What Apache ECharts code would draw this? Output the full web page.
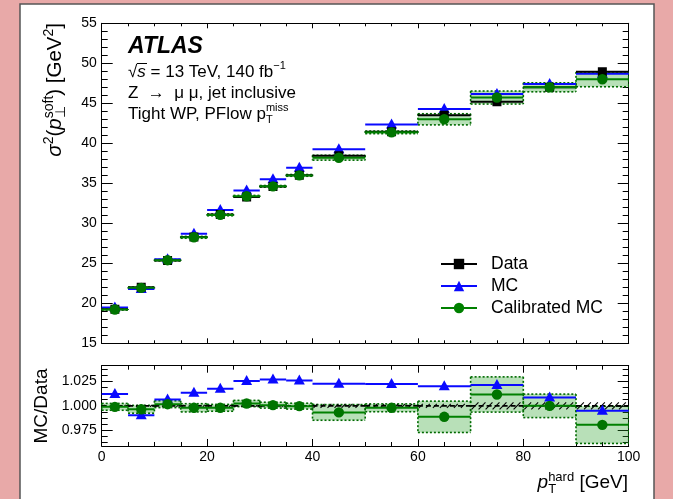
<!DOCTYPE html>
<html>
<head>
<meta charset="utf-8">
<script src="https://cdn.jsdelivr.net/npm/echarts@6/dist/echarts.min.js"></script>
<style>html,body{margin:0;padding:0;background:#e8a9a8;}#c{width:673px;height:499px;}</style>
</head>
<body>
<div id="c"></div>
<script>
// ---- data ----
const binLo = [0, 5, 10, 15, 20, 25, 30, 35, 40, 50, 60, 70, 80, 90];
const binHi = [5, 10, 15, 20, 25, 30, 35, 40, 50, 60, 70, 80, 90, 100];
const dataVals = [19.25, 22.0, 25.35, 28.3, 31.1, 33.3, 34.6, 36.0, 38.45, 41.45, 43.5, 45.2, 47.0, 48.95];
const mcVals = [19.48, 21.8, 25.5, 28.7, 31.65, 34.1, 35.5, 36.95, 39.25, 42.35, 44.3, 46.15, 47.4, 48.7];
const calibVals = [19.22, 21.93, 25.39, 28.25, 31.05, 33.38, 34.62, 35.99, 38.2, 41.37, 43.0, 45.72, 47.0, 48.0];
const mcRatio = [1.012, 0.9905, 1.0065, 1.0133, 1.0174, 1.0255, 1.027, 1.026, 1.0225, 1.0222, 1.020, 1.0214, 1.0086, 0.9949];
const calibRatio = [0.999, 0.9965, 1.0017, 0.998, 0.998, 1.0024, 1.0007, 0.9997, 0.9933, 0.998, 0.9888, 1.0116, 1.000, 0.9806];
const calibRelUnc = [0.0035, 0.004, 0.0035, 0.0042, 0.0035, 0.0032, 0.003, 0.003, 0.008, 0.004, 0.016, 0.018, 0.012, 0.019];
const dataRelUnc = [0.001, 0.001, 0.001, 0.001, 0.001, 0.001, 0.001, 0.001, 0.002, 0.002, 0.002, 0.0035, 0.0035, 0.0035];
const ratioMajorTicks = [0.975, 1.0, 1.025];
const ratioMinorTicks = [0.9625, 0.96875, 0.98125, 0.9875, 0.99375, 1.00625, 1.0125, 1.01875, 1.03125, 1.0375];

const FONT = "'Liberation Sans', Arial, Helvetica, sans-serif";
const BLUE = '#0a0aff', GREEN = '#008000', GREEN_DK = '#006a00', BLACK = '#000';
const BAND_FILL = 'rgba(40,160,40,0.33)';

function items(vals, unc) {
  return binLo.map((lo, i) => [lo, binHi[i], vals[i], unc ? unc[i] : 0]);
}
const upperBand = binLo.map((lo, i) => [lo, binHi[i], calibVals[i], calibRelUnc[i] * dataVals[i]]);

function marker(kind, c, color) {
  if (kind === 'rect') return {type:'rect', shape:{x:c[0]-4.5, y:c[1]-4.5, width:9, height:9}, style:{fill:color}};
  if (kind === 'tri') return {type:'polygon', shape:{points:[[c[0], c[1]-6], [c[0]-5.5, c[1]+4], [c[0]+5.5, c[1]+4]]}, style:{fill:color}};
  return {type:'circle', shape:{cx:c[0], cy:c[1], r:5.2}, style:{fill:color}};
}
function segRender(color, kind, mColor) {
  return function (params, api) {
    const lo = api.value(0), hi = api.value(1), v = api.value(2);
    const p1 = api.coord([lo, v]), p2 = api.coord([hi, v]);
    const c = api.coord([(lo + hi) / 2, v]);
    return {type:'group', children:[
      {type:'line', shape:{x1:p1[0], y1:p1[1], x2:p2[0], y2:p2[1]}, style:{stroke:color, lineWidth:2}},
      marker(kind, c, mColor || color)
    ]};
  };
}
function bandRender(params, api) {
  const lo = api.value(0), hi = api.value(1), v = api.value(2), u = api.value(3);
  const a = api.coord([lo, v + u]), b = api.coord([hi, v - u]);
  const x = a[0], y = a[1], w = b[0] - a[0], h = b[1] - a[1];
  const dot = {stroke:GREEN_DK, lineWidth:1.6, lineDash:[2, 2]};
  return {type:'group', children:[
    {type:'rect', shape:{x:x, y:y, width:w, height:h}, style:{fill:BAND_FILL}},
    {type:'line', shape:{x1:x, y1:y, x2:x+w, y2:y}, style:dot},
    {type:'line', shape:{x1:x, y1:y+h, x2:x+w, y2:y+h}, style:dot},
    {type:'line', shape:{x1:x, y1:y, x2:x, y2:y+h}, style:dot},
    {type:'line', shape:{x1:x+w, y1:y, x2:x+w, y2:y+h}, style:dot}
  ]};
}
function hatchRender(params, api) {
  const lo = api.value(0), hi = api.value(1), v = api.value(2), u = api.value(3);
  const a = api.coord([lo, v + u]), b = api.coord([hi, v - u]);
  const m = api.coord([lo, v]);
  const left = a[0], right = b[0], top = a[1], bot = b[1];
  const h = Math.max(bot - top, 1);
  const ch = [];
  for (let x = left + 1; x + h <= right; x += 7) {
    ch.push({type:'line', shape:{x1:x, y1:bot, x2:x + h, y2:top}, style:{stroke:BLACK, lineWidth:1.1}});
  }
  ch.push({type:'line', shape:{x1:left, y1:m[1], x2:right, y2:m[1]}, style:{stroke:BLACK, lineWidth:1.8, lineDash:[5, 3]}});
  return {type:'group', children:ch};
}

const tickCommon = {lineStyle:{color:'#000', width:1}, inside:true};
function xAx(grid, pos, labels, len, mlen) {
  return {type:'value', gridIndex:grid, position:pos, min:0, max:100, interval:20,
    axisLine:{show:true, onZero:false, lineStyle:{color:'#000', width:1}},
    axisTick:Object.assign({show:true, length:len}, tickCommon),
    minorTick:{show:true, splitNumber:4, length:mlen, lineStyle:{color:'#000', width:1}},
    axisLabel:{show:labels, fontSize:14, color:'#000', fontFamily:FONT, margin:4},
    splitLine:{show:false}, minorSplitLine:{show:false}};
}
function yAxUpper(pos, labels) {
  return {type:'value', gridIndex:0, position:pos, min:15, max:55, interval:5,
    axisLine:{show:true, onZero:false, lineStyle:{color:'#000', width:1}},
    axisTick:Object.assign({show:true, length:11}, tickCommon),
    minorTick:{show:true, splitNumber:5, length:6, lineStyle:{color:'#000', width:1}},
    axisLabel:{show:labels, fontSize:14, color:'#000', fontFamily:FONT, margin:5},
    splitLine:{show:false}, minorSplitLine:{show:false}};
}
function yAxLower(pos, labels, ticks, len, lineShow) {
  return {type:'value', gridIndex:1, position:pos, min:0.959, max:1.041,
    axisLine:{show:lineShow, onZero:false, lineStyle:{color:'#000', width:1}},
    axisTick:Object.assign({show:true, length:len, customValues:ticks}, tickCommon),
    axisLabel:{show:labels, fontSize:14, color:'#000', fontFamily:FONT, margin:5,
      customValues:ticks, formatter:(v) => v.toFixed(3)},
    splitLine:{show:false}};
}

const sup = {fontSize:11, fontFamily:FONT, verticalAlign:'top', lineHeight:11, color:'#000', align:'left'};
const sub = {fontSize:11, fontFamily:FONT, verticalAlign:'bottom', lineHeight:11, color:'#000', align:'left'};
const nTok = (fs) => ({fontSize:fs, fontFamily:FONT, lineHeight:fs + 6, color:'#000', align:'left'});
const iTok = (fs) => ({fontSize:fs, fontStyle:'italic', fontFamily:FONT, lineHeight:fs + 6, color:'#000', align:'left'});

const chart = echarts.init(document.getElementById('c'), null, {renderer:'canvas'});
chart.setOption({
  backgroundColor:'#e8a9a8',
  animation:false,
  grid:[{left:101.7, top:23.3, width:527, height:320}, {left:101.7, top:365.7, width:527, height:80.3}],
  xAxis:[xAx(0, 'bottom', false, 5, 3), xAx(0, 'top', false, 5, 3), xAx(1, 'bottom', true, 7, 4), xAx(1, 'top', false, 7, 4)],
  yAxis:[yAxUpper('left', true), yAxUpper('right', false),
    yAxLower('left', true, ratioMajorTicks, 11, true), yAxLower('right', false, ratioMajorTicks, 11, true),
    yAxLower('left', false, ratioMinorTicks, 6, false), yAxLower('right', false, ratioMinorTicks, 6, false)],
  legend:{left:435, top:250, orient:'vertical', itemWidth:36, itemHeight:13, itemGap:4, selectedMode:false,
    textStyle:{fontSize:17.5, fontFamily:FONT, color:'#000', padding:[0, 0, 0, 9]},
    data:['Data', 'MC', 'Calibrated MC']},
  graphic:[
    {type:'rect', z:-10, shape:{x:20, y:4, width:634, height:500}, style:{fill:'#fff', stroke:'#555', lineWidth:1.5}},
    {type:'text', x:128, y:47, style:{text:'ATLAS', font:'italic bold 23px ' + FONT, fill:'#000', verticalAlign:'middle'}},
    {type:'text', x:128, y:72, style:{text:'{n|√}{i|s}{n| = 13 TeV, 140 fb}{s|−1}', verticalAlign:'middle',
      rich:{n:nTok(17), i:iTok(17), s:sup}}},
    {type:'line', shape:{x1:137, y1:63.5, x2:147, y2:63.5}, style:{stroke:'#000', lineWidth:1}},
    {type:'text', x:128, y:93, style:{text:'Z  →  μ μ, jet inclusive', font:'17px ' + FONT, fill:'#000', verticalAlign:'middle'}},
    {type:'text', x:128, y:114, style:{text:'{n|Tight WP, PFlow p}{b|T}{s|miss}', verticalAlign:'middle',
      rich:{n:nTok(17), b:Object.assign({}, sub, {width:0}), s:sup}}},
    {type:'text', x:55, y:23, rotation:Math.PI / 2, style:{text:'{i|σ}{s|2}{n|(}{i|p}{b|⊥}{s|soft}{n|) [GeV}{s|2}{n|]}', align:'right', verticalAlign:'middle',
      rich:{n:nTok(20.5), i:iTok(20.5),
        s:Object.assign({}, sup, {fontSize:14, lineHeight:14}), b:Object.assign({}, sub, {fontSize:14, lineHeight:14, width:0})}}},
    {type:'text', x:42, y:406, rotation:Math.PI / 2, style:{text:'MC/Data', font:'19px ' + FONT, fill:'#000', align:'center', verticalAlign:'middle'}},
    {type:'text', x:628, y:483, style:{text:'{i|p}{b|T}{s|hard}{n| [GeV]}', align:'right', verticalAlign:'middle',
      rich:{n:nTok(19), i:iTok(19),
        s:Object.assign({}, sup, {fontSize:13, lineHeight:13}), b:Object.assign({}, sub, {fontSize:13, lineHeight:13, width:0})}}}
  ],
  series:[
    // upper panel
    {type:'custom', name:'calibBandU', xAxisIndex:0, yAxisIndex:0, clip:true, z:2, data:upperBand, encode:{x:[0, 1], y:2}, renderItem:bandRender},
    {type:'custom', name:'mcU', xAxisIndex:0, yAxisIndex:0, clip:true, z:3, data:items(mcVals), encode:{x:[0, 1], y:2}, renderItem:segRender(BLUE, 'tri')},
    {type:'custom', name:'dataU', xAxisIndex:0, yAxisIndex:0, clip:true, z:4, data:items(dataVals), encode:{x:[0, 1], y:2}, renderItem:segRender(BLACK, 'rect')},
    {type:'custom', name:'calibU', xAxisIndex:0, yAxisIndex:0, clip:true, z:5, data:items(calibVals), encode:{x:[0, 1], y:2}, renderItem:segRender(GREEN, 'circ', '#007400')},
    // lower panel
    {type:'custom', name:'calibBandL', xAxisIndex:2, yAxisIndex:2, clip:true, z:2, data:items(calibRatio, calibRelUnc), encode:{x:[0, 1], y:2}, renderItem:bandRender},
    {type:'custom', name:'dataL', xAxisIndex:2, yAxisIndex:2, clip:true, z:3, data:binLo.map((lo, i) => [lo, binHi[i], 1.0, dataRelUnc[i]]), encode:{x:[0, 1], y:2}, renderItem:hatchRender},
    {type:'custom', name:'mcL', xAxisIndex:2, yAxisIndex:2, clip:true, z:4, data:items(mcRatio), encode:{x:[0, 1], y:2}, renderItem:segRender(BLUE, 'tri')},
    {type:'custom', name:'calibL', xAxisIndex:2, yAxisIndex:2, clip:true, z:5, data:items(calibRatio), encode:{x:[0, 1], y:2}, renderItem:segRender(GREEN, 'circ', '#007400')},
    // legend entries
    {type:'line', name:'Data', xAxisIndex:0, yAxisIndex:0, data:[], symbol:'rect', symbolSize:10, itemStyle:{color:BLACK}, lineStyle:{color:BLACK, width:2}},
    {type:'line', name:'MC', xAxisIndex:0, yAxisIndex:0, data:[], symbol:'triangle', symbolSize:11, itemStyle:{color:BLUE}, lineStyle:{color:BLUE, width:2}},
    {type:'line', name:'Calibrated MC', xAxisIndex:0, yAxisIndex:0, data:[], symbol:'circle', symbolSize:11, itemStyle:{color:GREEN}, lineStyle:{color:GREEN, width:2}}
  ]
});
</script>
</body>
</html>
